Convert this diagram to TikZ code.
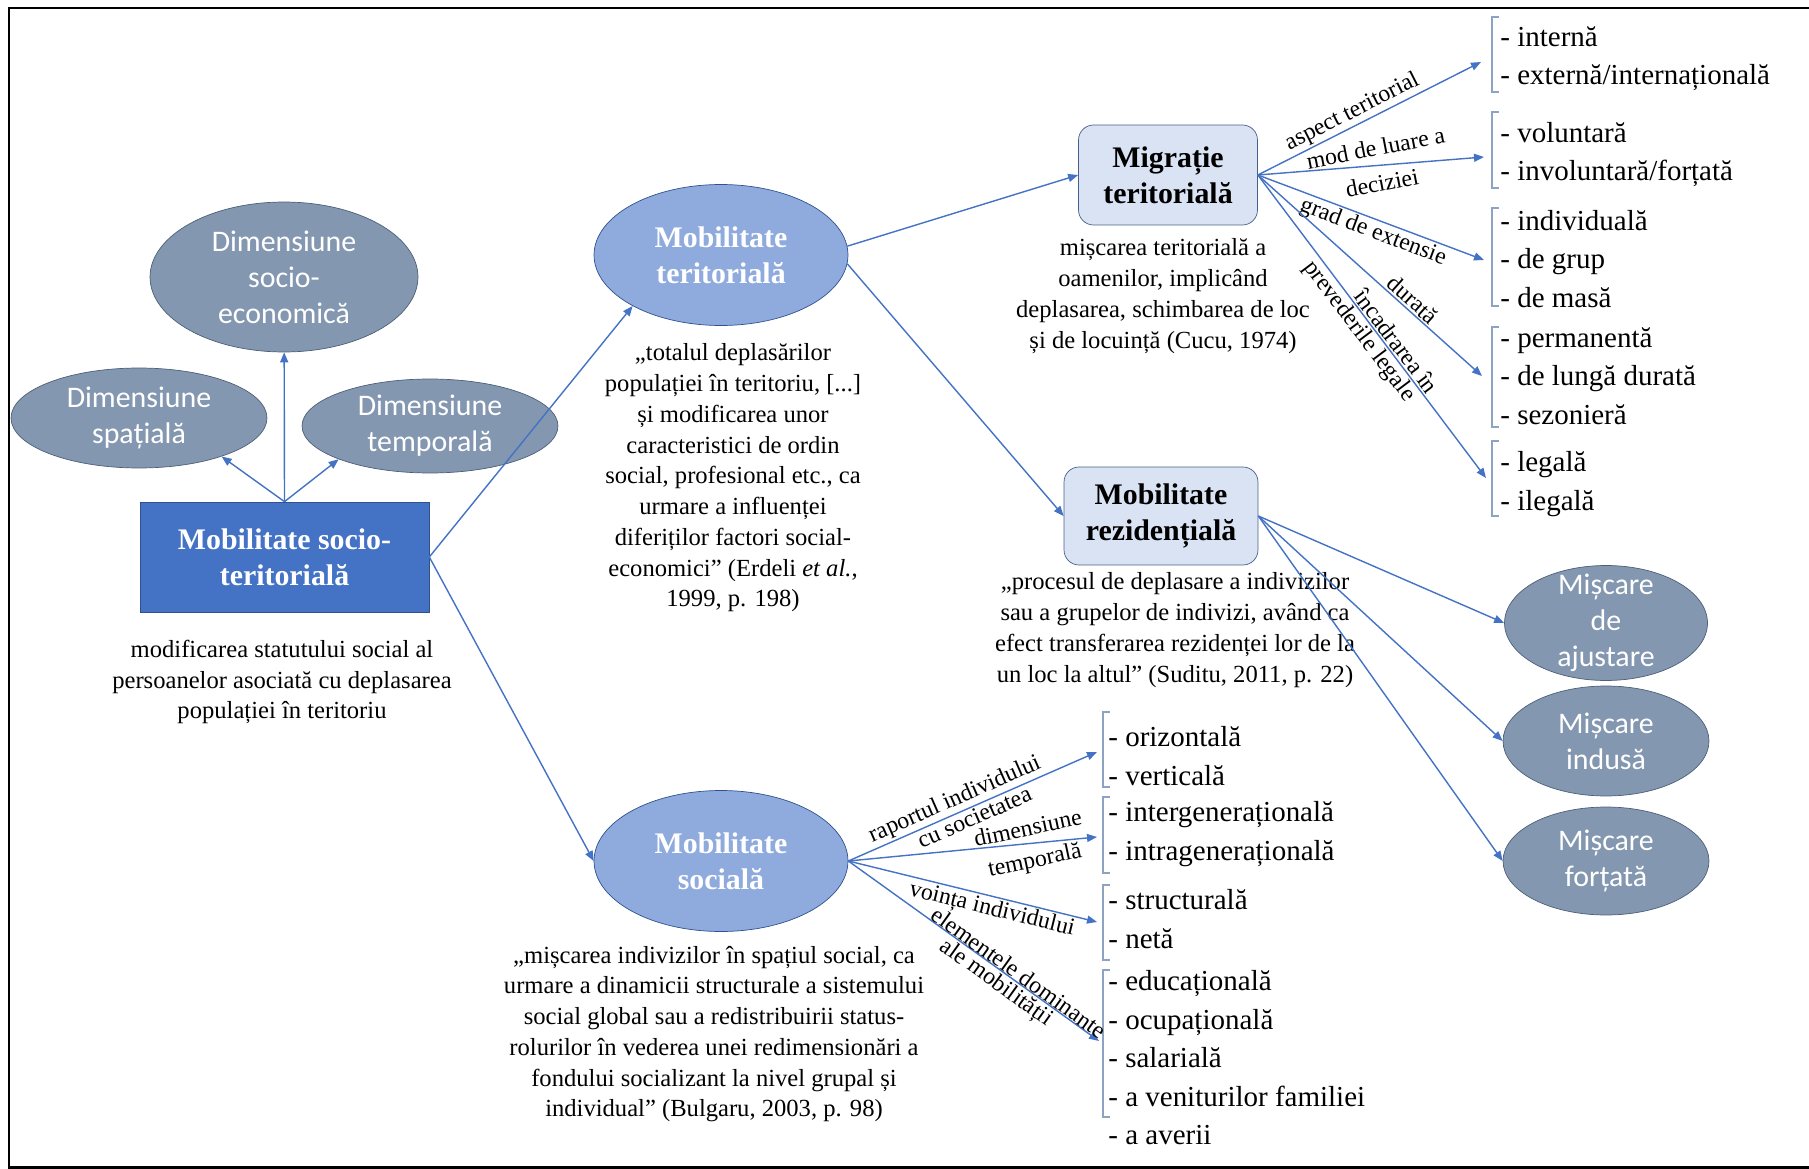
\documentclass[tikz,border=0pt]{standalone}
\usepackage{fontspec}
\setmainfont{Liberation Serif}
\newfontfamily\calibrifont{Carlito}
\usetikzlibrary{shapes.geometric,arrows.meta}

\definecolor{boxblue}{HTML}{4472C4}
\definecolor{darkblue}{HTML}{2F528F}
\definecolor{lightblue}{HTML}{8FAADC}
\definecolor{paleblue}{HTML}{DAE3F3}
\definecolor{slategray}{HTML}{8497B0}
\definecolor{slateline}{HTML}{4E5F78}
\definecolor{arrowblue}{HTML}{4472C4}
\definecolor{bracketgray}{HTML}{8EA3C2}

\tikzset{
	dimnode/.style={ellipse, draw=slateline, fill=slategray, text=white, font=\calibrifont\fontsize{17}{20.5}\selectfont, align=center, inner sep=0pt},
	dimtext/.style={text=white, font=\calibrifont\fontsize{17}{20.5}\selectfont, align=center},
	mobnode/.style={ellipse, draw=darkblue, fill=lightblue, text=white, font=\bfseries\fontsize{17}{20.5}\selectfont, align=center, inner sep=0pt, minimum width=5.08cm, minimum height=2.82cm},
	typenode/.style={rectangle, rounded corners=0.3cm, draw=darkblue!70!gray, fill=paleblue, font=\bfseries\fontsize{17}{20.5}\selectfont, align=center, inner sep=0pt},
	rectnode/.style={rectangle, draw=darkblue, fill=boxblue, text=white, font=\bfseries\fontsize{17}{20.5}\selectfont, align=center, inner sep=0pt, minimum width=5.78cm, minimum height=2.2cm},
	quotetext/.style={align=center, font=\fontsize{14}{17.5}\selectfont, inner sep=0pt},
	itemlist/.style={align=left, anchor=west, font=\fontsize{16.5}{21.9}\selectfont, inner sep=0pt},
	link/.style={draw=arrowblue, line width=0.8pt, -{Triangle[length=0.2cm,width=0.16cm]}},
	lbltext/.style={font=\fontsize{13.5}{15}\selectfont, inner sep=1pt},
	lbl/.style={lbltext, sloped},
	bracketline/.style={draw=bracketgray, line width=0.8pt}
}

\begin{document}
\begin{tikzpicture}[x=0.02cm, y=-0.02cm]
	\useasboundingbox (0,0) rectangle (1809,1169);
	\draw[line width=1.7pt] (1809,8) -- (9,8) -- (9,1167) -- (1809,1167);

	% dimensiunile
	\node[dimnode, minimum width=5.36cm, minimum height=3cm] (dsoc) at (284,277) {Dimensiune\\socio-\\economică};
	\node[dimnode, minimum width=5.12cm, minimum height=2cm] (dspa) at (139,418) {Dimensiune\\spațială};
	\node[dimnode, minimum width=5.12cm, minimum height=1.88cm] (dtem) at (430,426) {Dimensiune\\temporală};

	\node[rectnode] (mst) at (284.5,557) {Mobilitate socio-\\teritorială};
	\node[quotetext] (qsoc) at (282,682) {modificarea statutului social al\\persoanelor asociată cu deplasarea\\populației în teritoriu};

	% mobilitate teritoriala / sociala
	\node[mobnode] (mt) at (721,255) {Mobilitate\\teritorială};
	\node[quotetext] (qter) at (733,478) {„totalul deplasărilor\\populației în teritoriu, [...]\\și modificarea unor\\caracteristici de ordin\\social, profesional etc., ca\\urmare a influenței\\diferiților factori social-\\economici” (Erdeli \textit{et al.},\\1999, p. 198)};
	\node[mobnode] (ms) at (721,861) {Mobilitate\\socială};
	\node[quotetext] (qsocial) at (714,1034) {„mișcarea indivizilor în spațiul social, ca\\urmare a dinamicii structurale a sistemului\\social global sau a redistribuirii status-\\rolurilor în vederea unei redimensionări a\\fondului socializant la nivel grupal și\\individual” (Bulgaru, 2003, p. 98)};

	\node[typenode, minimum width=3.58cm, minimum height=2cm] (mg) at (1168,175) {Migrație\\teritorială};
	\node[quotetext] (qmig) at (1163,296) {mișcarea teritorială a\\oamenilor, implicând\\deplasarea, schimbarea de loc\\și de locuință (Cucu, 1974)};
	\node[typenode, minimum width=3.88cm, minimum height=1.96cm] (mr) at (1161,516) {Mobilitate\\rezidențială};
	\node[quotetext] (qrez) at (1175,630) {„procesul de deplasare a indivizilor\\sau a grupelor de indivizi, având ca\\efect transferarea rezidenței lor de la\\un loc la altul” (Suditu, 2011, p. 22)};

	\node[dimnode, minimum width=4.06cm, minimum height=2.3cm, label={[dimtext]center:{Mișcare\\de\\ajustare}}] (a1) at (1606,623) {};
	\node[dimnode, minimum width=4.12cm, minimum height=2.2cm] (a2) at (1606,741) {Mișcare\\indusă};
	\node[dimnode, minimum width=4.12cm, minimum height=2.16cm] (a3) at (1606,861) {Mișcare\\forțată};

	% listele
	\node[itemlist] (lter1) at (1500,58.5) {- internă\\- externă/internațională};
	\node[itemlist] (lter2) at (1500,154.5) {- voluntară\\- involuntară/forțată};
	\node[itemlist] (lter3) at (1500,259) {- individuală\\- de grup\\- de masă};
	\node[itemlist] (lter4) at (1500,376) {- permanentă\\- de lungă durată\\- sezonieră};
	\node[itemlist] (lter5) at (1500,484) {- legală\\- ilegală};
	\node[itemlist] (lsoc1) at (1108,756) {- orizontală\\- verticală};
	\node[itemlist] (lsoc2) at (1108,834) {- intergenerațională\\- intragenerațională};
	\node[itemlist] (lsoc3) at (1108,919) {- structurală\\- netă};
	\node[itemlist] (lsoc4) at (1108,1058) {- educațională\\- ocupațională\\- salarială\\- a veniturilor familiei\\- a averii};

	\draw[bracketline] (1499,17) -- (1492,17) -- (1492,92) -- (1499,92);
	\draw[bracketline] (1499,112) -- (1492,112) -- (1492,188) -- (1499,188);
	\draw[bracketline] (1499,208) -- (1492,208) -- (1492,306) -- (1499,306);
	\draw[bracketline] (1499,327) -- (1492,327) -- (1492,427) -- (1499,427);
	\draw[bracketline] (1499,441) -- (1492,441) -- (1492,516) -- (1499,516);
	\draw[bracketline] (1110,712) -- (1103,712) -- (1103,787) -- (1110,787);
	\draw[bracketline] (1110,797) -- (1103,797) -- (1103,873) -- (1110,873);
	\draw[bracketline] (1110,885) -- (1103,885) -- (1103,960) -- (1110,960);
	\draw[bracketline] (1110,970) -- (1103,970) -- (1103,1117) -- (1110,1117);

	\coordinate (t1) at (1481,62);
	\coordinate (t2) at (1484,157);
	\coordinate (t3) at (1484,260);
	\coordinate (t4) at (1482,376);
	\coordinate (t5) at (1486,478);
	\coordinate (s1) at (1097,752);
	\coordinate (s2) at (1097,837);
	\coordinate (s3) at (1097,922);
	\coordinate (s4) at (1099,1041);

	% legaturi
	\draw[link] (mst.north) -- (dsoc);
	\draw[link] (mst.north) -- (dspa.-25);
	\draw[link] (mst.north) -- (dtem.200);
	\draw[link] (mst.east) -- (mt.210);
	\draw[link] (mst.east) -- (ms.west);
	\draw[link] (mt.4) -- (mg.west);
	\draw[link] (mt.-4) -- (mr.west);
	\draw[link] (mr.east) -- (a1.west);
	\draw[link] (mr.east) -- (a2.west);
	\draw[link] (mr.east) -- (a3.west);

	\draw[link] (mg.east) -- (t1) node[lbl, above, pos=0.45] {aspect teritorial};
	\draw[link] (mg.east) -- (t2) node[lbltext, above=4pt, pos=0.53, rotate=11] {mod de luare a} node[lbltext, below=4pt, pos=0.54, rotate=11] {deciziei};
	\draw[link] (mg.east) -- (t3) node[lbl, below, pos=0.53] {grad de extensie};
	\draw[link] (mg.east) -- (t4) node[lbl, above, pos=0.66] {durată};
	\draw[link] (mg.east) -- (t5) node[lbl, above, pos=0.57] {încadrarea în} node[lbl, below, pos=0.49] {prevederile legale};

	\draw[link] (ms.east) -- (s1) node[lbl, above, pos=0.45] {raportul individului} node[lbl, below, pos=0.49] {cu societatea};
	\draw[link] (ms.east) -- (s2) node[lbltext, above=3pt, pos=0.73, rotate=12] {dimensiune} node[lbltext, below=3pt, pos=0.74, rotate=12] {temporală};
	\draw[link] (ms.east) -- (s3) node[lbl, below, pos=0.59] {voința individului};
	\draw[link] (ms.east) -- (s4) node[lbl, above, pos=0.66, inner sep=0pt] {elementele dominante} node[lbl, below, pos=0.62] {ale mobilității};
\end{tikzpicture}
\end{document}
